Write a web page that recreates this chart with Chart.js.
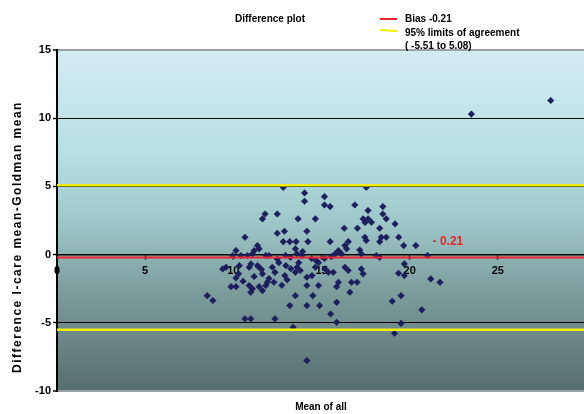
<!DOCTYPE html>
<html>
<head>
<meta charset="utf-8">
<title>Difference plot</title>
<script src="https://cdn.jsdelivr.net/npm/chart.js@4/dist/chart.umd.min.js"></script>
<style>
  html, body { margin: 0; padding: 0; background: #fff; overflow: hidden; }
  #frame { width: 584px; height: 414px; overflow: hidden; position: relative; }
  #box { width: 592px; height: 414px; position: absolute; left: 0; top: 0; }
</style>
</head>
<body>
<div id="frame"><div id="box"><canvas id="c"></canvas></div></div>
<script>
// Mean of the two methods (x) for each subject
const meanOfAll = [
  12.83, 17.54, 14.04, 14.04, 15.17, 15.17, 15.49, 16.89, 18.48, 17.64,
  18.48, 18.67, 11.80, 11.65, 12.49, 13.67, 14.65, 17.36, 17.64, 17.83,
  17.47, 19.17, 16.29, 17.04, 18.30, 10.66, 12.49, 12.90, 14.17, 17.46,
  17.54, 18.39, 18.67, 19.38, 12.83, 13.20, 13.56, 14.23, 15.49, 16.52,
  18.30, 19.66, 20.35, 11.37, 11.46, 11.18, 11.08, 16.33, 16.42, 15.96,
  15.77, 17.17, 17.26, 13.52, 13.61, 13.89, 12.96, 13.24, 18.11, 18.30,
  10.43, 10.80, 11.84, 21.01, 16.14, 10.15, 9.96, 15.56, 13.93, 12.02,
  12.49, 13.61, 13.80, 13.52, 14.65, 15.21, 15.39, 16.33, 16.52, 17.26,
  17.36, 19.70, 11.46, 11.65, 12.21, 10.90, 9.59, 9.40, 10.34, 11.00,
  10.15, 21.20, 21.72, 19.37, 9.87, 10.15, 10.90, 11.08, 10.99, 11.46,
  11.65, 11.84, 11.93, 12.30, 12.36, 14.17, 14.46, 14.17, 14.83, 13.52,
  14.51, 13.20, 14.17, 14.89, 15.52, 15.86, 10.66, 10.99, 12.36, 13.39,
  14.17, 15.86, 15.67, 15.96, 15.86, 16.70, 17.02, 16.61, 19.01, 19.51,
  20.69, 19.51, 19.14, 8.52, 8.84, 19.70, 23.50, 28.00, 11.37, 12.02,
  11.18, 12.58, 12.98, 13.26, 12.92, 13.71, 14.44, 14.83, 15.17, 10.55,
  11.60, 12.75, 10.30, 13.05, 14.70
];
// Difference I-care mean - Goldman mean (y) for each subject
const difference = [
  4.93, 4.93, 4.52, 3.91, 4.25, 3.64, 3.52, 3.64, 3.52, 3.23,
  2.98, 2.62, 2.98, 2.62, 2.98, 2.62, 2.62, 2.62, 2.62, 2.37,
  2.35, 2.25, 1.93, 1.93, 1.93, 1.27, 1.56, 1.71, 1.71, 1.27,
  1.03, 1.27, 1.27, 1.27, 0.95, 0.95, 0.95, 0.95, 0.95, 0.95,
  0.95, 0.66, 0.66, 0.66, 0.42, 0.29, 0.05, 0.66, 0.42, 0.29,
  0.05, 0.34, 0.05, 0.42, 0.05, -0.07, -0.07, -0.20, -0.07, -0.20,
  -0.07, -0.07, -0.07, -0.07, 0.05, 0.29, -0.07, -0.15, 0.22, -0.07,
  -0.32, -0.93, -1.17, -1.30, -0.93, -1.05, -1.30, -0.93, -1.17, -1.05,
  -1.41, -0.68, -0.93, -1.41, -0.93, -0.93, -0.93, -1.05, -0.81, -0.68,
  -1.71, -1.78, -2.03, -1.37, -2.35, -2.35, -2.27, -2.51, -2.76, -2.35,
  -2.64, -2.27, -2.03, -2.03, -1.30, -1.66, -1.54, -2.27, -2.27, -3.01,
  -3.01, -3.74, -3.74, -3.74, -4.35, -4.96, -4.71, -4.71, -4.71, -5.33,
  -7.77, -3.50, -1.30, -2.03, -2.35, -2.03, -2.03, -2.76, -3.42, -3.01,
  -4.05, -5.04, -5.77, -3.01, -3.37, -1.54, 10.30, 11.30, -0.81, -1.76,
  -1.61, -0.59, -0.81, -1.03, -1.54, -0.59, -0.29, -0.59, -0.29, -1.95,
  -1.10, -2.25, -1.40, -1.85, -0.45
];

const bias = -0.21;
const upperLimit = 5.08;
const lowerLimit = -5.51;

const xRange = [0, 30];
const yRange = [-10, 15];
const tickStep = 5;

const points = meanOfAll.map((m, i) => ({ x: m, y: difference[i] }));
const hLine = v => xRange.map(x => ({ x: x, y: v }));

const FONT = 'Arial, "Liberation Sans", sans-serif';

// Gradient plot-area fill, drawn under the grid
const plotBackground = {
  id: 'plotBackground',
  beforeDraw(chart) {
    const { ctx, chartArea: a } = chart;
    const g = ctx.createLinearGradient(0, a.top, 0, a.bottom);
    g.addColorStop(0, '#d3ecf3');
    g.addColorStop(0.3, '#b6e0e4');
    g.addColorStop(0.5, '#9fc8ca');
    g.addColorStop(0.7, '#7e9e9e');
    g.addColorStop(1, '#566e6d');
    ctx.save();
    ctx.fillStyle = g;
    ctx.fillRect(a.left, a.top, a.right - a.left, a.bottom - a.top);
    ctx.restore();
  }
};

// Titles, legend and the bias label
const chartText = {
  id: 'chartText',
  afterDraw(chart) {
    const { ctx, scales } = chart;
    ctx.save();
    ctx.fillStyle = '#000';
    ctx.textBaseline = 'middle';

    ctx.font = 'bold 10px ' + FONT;
    ctx.textAlign = 'center';
    ctx.fillText('Difference plot', 270, 19);

    ctx.fillText('Mean of all', 321, 407);

    ctx.save();
    ctx.translate(18, 237);
    ctx.rotate(-Math.PI / 2);
    ctx.font = 'bold 12px ' + FONT;
    ctx.letterSpacing = '1.5px';
    ctx.fillText('Difference I-care mean-Goldman mean', 0, 0);
    ctx.restore();

    // legend
    ctx.textAlign = 'left';
    ctx.font = 'bold 10px ' + FONT;
    ctx.lineWidth = 2;
    ctx.strokeStyle = '#e8262b';
    ctx.beginPath(); ctx.moveTo(380, 19); ctx.lineTo(397, 19); ctx.stroke();
    ctx.strokeStyle = '#f2ee00';
    ctx.beginPath(); ctx.moveTo(380, 30); ctx.lineTo(397, 31); ctx.stroke();
    ctx.fillText('Bias ' + bias.toFixed(2), 405, 19);
    ctx.fillText('95% limits of agreement', 405, 33);
    ctx.fillText('( ' + lowerLimit.toFixed(2) + ' to ' + upperLimit.toFixed(2) + ')', 405, 46);

    // bias value beside its line
    ctx.fillStyle = '#e8262b';
    ctx.font = 'bold 12px ' + FONT;
    ctx.fillText('- ' + Math.abs(bias).toFixed(2), scales.x.getPixelForValue(21.3), scales.y.getPixelForValue(bias + 1.15));
    ctx.restore();
  }
};

new Chart(document.getElementById('c'), {
  type: 'scatter',
  data: {
    datasets: [
      {
        label: 'Bias',
        data: hLine(bias),
        showLine: true,
        borderColor: '#e8262b',
        borderWidth: 2,
        pointRadius: 0,
        order: 0
      },
      {
        label: 'Upper limit of agreement',
        data: hLine(upperLimit),
        showLine: true,
        borderColor: '#f2ee00',
        borderWidth: 2.5,
        pointRadius: 0,
        order: 0
      },
      {
        label: 'Lower limit of agreement',
        data: hLine(lowerLimit),
        showLine: true,
        borderColor: '#f2ee00',
        borderWidth: 2.5,
        pointRadius: 0,
        order: 0
      },
      {
        label: 'Difference',
        data: points,
        pointStyle: 'rectRot',
        pointRadius: 3.3,
        backgroundColor: '#1c1f5c',
        borderColor: '#1c1f5c',
        borderWidth: 0.5,
        order: 1
      }
    ]
  },
  options: {
    responsive: true,
    maintainAspectRatio: false,
    animation: false,
    events: [],
    layout: { padding: { left: 0, right: 2, top: 50, bottom: 23 } },
    plugins: { legend: { display: false }, tooltip: { enabled: false }, title: { display: false } },
    scales: {
      x: {
        type: 'linear',
        position: { y: 0 },
        min: xRange[0],
        max: xRange[1],
        ticks: {
          stepSize: tickStep,
          color: '#000',
          font: { family: FONT, size: 11, weight: 'bold' },
          padding: 6,
          maxRotation: 0,
          callback: v => (v >= xRange[1] ? '' : String(v))
        },
        grid: { drawOnChartArea: false, drawTicks: true, tickLength: 4, tickColor: '#000', tickWidth: 1.5 },
        border: { display: true, color: '#000', width: 1.5 }
      },
      y: {
        type: 'linear',
        min: yRange[0],
        max: yRange[1],
        afterFit(scale) { scale.width = 57; },
        ticks: {
          stepSize: tickStep,
          color: '#000',
          font: { family: FONT, size: 11, weight: 'bold' },
          padding: 2
        },
        grid: {
          color: c => (c.tick && (c.tick.value === yRange[0] || c.tick.value === yRange[1]) ? '#9aa4a6' : '#000'),
          lineWidth: c => (c.tick && (c.tick.value === yRange[0] || c.tick.value === yRange[1]) ? 2 : 1),
          tickLength: 4,
          tickColor: '#000',
          tickWidth: 1.5
        },
        border: { display: true, color: '#000', width: 2 }
      }
    }
  },
  plugins: [plotBackground, chartText]
});
</script>
</body>
</html>
